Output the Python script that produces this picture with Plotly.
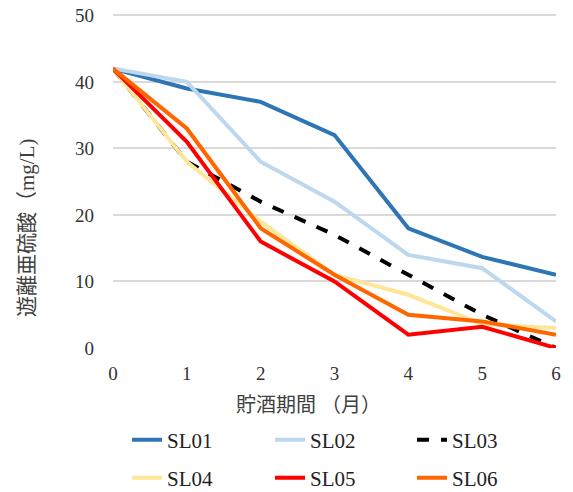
import plotly.graph_objects as go

months = [0, 1, 2, 3, 4, 5, 6]
sl01 = [42, 39, 37, 32, 18, 13.7, 11]
sl02 = [42, 40, 28, 22, 14, 12, 4]
sl03 = [42, 28, 22, 17, 11, 5, 0]
sl04 = [42, 28, 19, 11, 8, 3.6, 3]
sl05 = [42, 31, 16, 10, 2, 3.2, 0]
sl06 = [42, 33, 18, 11, 5, 4, 2]
y_ticks = [0, 10, 20, 30, 40, 50]

series = [
    ("SL01", sl01, "#2E75B6", "solid"),
    ("SL02", sl02, "#BDD7EE", "solid"),
    ("SL03", sl03, "#000000", "dash"),
    ("SL04", sl04, "#FFE699", "solid"),
    ("SL05", sl05, "#FF0000", "solid"),
    ("SL06", sl06, "#FF6600", "solid"),
]

# the page body has an 8px margin, so the figure is 8px smaller and
# screen coordinates are shifted by 8px
OFF = 8
W, H = 573 - OFF, 492 - OFF
L, R, T, B = 113 - OFF, 17, 14 - OFF, 144
pw, ph = W - L - R, H - T - B

def px_x(p):
    return (p - OFF - L) / pw

def px_y(p):
    return (H - B - (p - OFF)) / ph

serif = "Times New Roman, Liberation Serif, DejaVu Serif, serif"
mixed = "Times New Roman, Liberation Serif, Noto Sans CJK JP, serif"
tick_font = dict(family=serif, size=19, color="#333333")

leg_cols = [127, 270, 412]
leg_rows = [440, 478]

fig = go.Figure()
legend_layout = {}
for i, (name, vals, color, dash) in enumerate(series):
    key = "legend" if i == 0 else f"legend{i + 1}"
    fig.add_trace(go.Scatter(
        x=months, y=vals, name=name, mode="lines",
        line=dict(color=color, width=4, dash=dash),
        legend=key,
    ))
    legend_layout[key] = dict(
        x=px_x(leg_cols[i % 3]), y=px_y(leg_rows[i // 3]),
        xanchor="left", yanchor="middle", orientation="h",
        font=dict(family=serif, size=21, color="#222222"),
        bgcolor="rgba(0,0,0,0)",
    )

fig.update_layout(
    width=W, height=H,
    font=dict(family=serif),
    margin=dict(l=L, r=R, t=T, b=B, autoexpand=False),
    plot_bgcolor="white", paper_bgcolor="white",
    xaxis=dict(range=[0, 6], tickvals=months, ticktext=[str(m) for m in months],
               showgrid=False, zeroline=False, showline=False,
               tickfont=tick_font, ticks="", ticklabelstandoff=12,
               ticklabeloverflow="allow"),
    yaxis=dict(range=[0, 50.2], tickvals=y_ticks,
               showgrid=True, gridcolor="#D9D9D9", gridwidth=1.5,
               zeroline=False, showline=False,
               tickfont=tick_font, ticks="", ticklabelstandoff=18,
               ticklabeloverflow="allow"),
    showlegend=True,
    annotations=[
        dict(text="貯酒期間 （月）", xref="paper", yref="paper",
             x=px_x(308), y=px_y(405), showarrow=False,
             font=dict(family=mixed, size=20, color="#404040"),
             xanchor="center", yanchor="middle"),
        dict(text="遊離亜硫酸（mg/L)", xref="paper", yref="paper",
             x=px_x(27), y=px_y(228), showarrow=False, textangle=-90,
             font=dict(family=mixed, size=21, color="#404040"),
             xanchor="center", yanchor="middle"),
    ],
    **legend_layout,
)

fig.write_html("out.html")
